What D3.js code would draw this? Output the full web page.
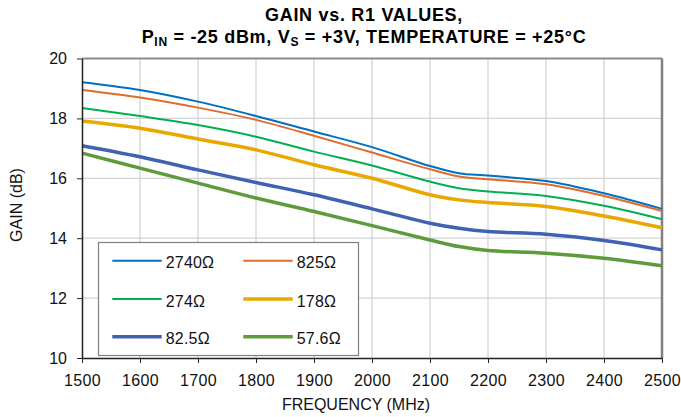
<!DOCTYPE html>
<html><head><meta charset="utf-8">
<script src="https://cdn.jsdelivr.net/npm/d3@7"></script>
<style>body{margin:0;background:#fff}svg{display:block;font-family:"Liberation Sans",Arial,sans-serif}</style>
</head><body>
<svg id="c" width="681" height="417"></svg>
<script>
const freqs = [1500,1600,1700,1800,1900,2000,2100,2150,2200,2300,2400,2500];
const s2740 = [19.21,18.95,18.56,18.08,17.56,17.04,16.41,16.17,16.09,15.91,15.50,14.98];
const s825  = [18.95,18.70,18.36,17.95,17.42,16.86,16.30,16.06,15.97,15.80,15.41,14.91];
const s274  = [18.35,18.08,17.78,17.39,16.89,16.43,15.89,15.67,15.56,15.41,15.08,14.63];
const s178  = [17.91,17.67,17.31,16.95,16.45,16.00,15.45,15.28,15.19,15.06,14.74,14.35];
const s82_5 = [17.09,16.72,16.28,15.86,15.45,14.98,14.50,14.33,14.22,14.13,13.92,13.61];
const s57_6 = [16.84,16.34,15.84,15.34,14.89,14.42,13.94,13.72,13.59,13.50,13.33,13.08];
const seriesNames = ["2740Ω","825Ω","274Ω","178Ω","82.5Ω","57.6Ω"];
const xTicks = [1500,1600,1700,1800,1900,2000,2100,2200,2300,2400,2500];
const yTicks = [10,12,14,16,18,20];

const series = [
  {name:seriesNames[0], values:s2740, color:"#0070C0", w:2},
  {name:seriesNames[1], values:s825,  color:"#E06C2C", w:2},
  {name:seriesNames[2], values:s274,  color:"#00B050", w:2},
  {name:seriesNames[3], values:s178,  color:"#E8A800", w:3.5},
  {name:seriesNames[4], values:s82_5, color:"#3F62B2", w:3.5},
  {name:seriesNames[5], values:s57_6, color:"#5F9A3C", w:3.5}
];

const svg = d3.select("#c");
const L=82, R=662, T=58.5, B=358;
const x = d3.scaleLinear().domain([1500,2500]).range([L,R]);
const y = d3.scaleLinear().domain([10,20]).range([B,T]);

// grid
svg.append("g").selectAll("line").data(xTicks.slice(1,-1)).join("line")
  .attr("x1",d=>x(d)).attr("x2",d=>x(d)).attr("y1",T).attr("y2",B)
  .attr("stroke","#d4d4d4").attr("stroke-width",1.3);
svg.append("g").selectAll("line").data(yTicks.slice(1,-1)).join("line")
  .attr("x1",L).attr("x2",R).attr("y1",d=>y(d)).attr("y2",d=>y(d))
  .attr("stroke","#d4d4d4").attr("stroke-width",1.3);
// top and right frame
svg.append("line").attr("x1",L).attr("x2",R).attr("y1",T).attr("y2",T).attr("stroke","#8a8a8a").attr("stroke-width",2);
svg.append("line").attr("x1",R).attr("x2",R).attr("y1",T).attr("y2",B).attr("stroke","#808080").attr("stroke-width",2.5);

// lines
const line = d3.line().x((d,i)=>x(freqs[i])).y(d=>y(d)).curve(d3.curveCatmullRom.alpha(0.5));
svg.append("g").selectAll("path").data(series).join("path")
  .attr("d",d=>line(d.values)).attr("fill","none")
  .attr("stroke",d=>d.color).attr("stroke-width",d=>d.w).attr("stroke-linejoin","round");

// legend
const lg = svg.append("g");
lg.append("rect").attr("x",98.5).attr("y",242.5).attr("width",260).attr("height",113)
  .attr("fill","#fff").attr("stroke","#7f7f7f").attr("stroke-width",1.2);
series.forEach((s,i)=>{
  const col=i%2, row=Math.floor(i/2);
  const lx = col?243.3:112.3, ly = [260.7,299,336.7][row];
  lg.append("line").attr("x1",lx).attr("x2",lx+49.4).attr("y1",ly).attr("y2",ly)
    .attr("stroke",s.color).attr("stroke-width",s.w);
  lg.append("text").attr("x",lx+53.4).attr("y",ly+7.5).attr("font-size",16)
    .attr("letter-spacing",0.2).attr("fill","#111").text(s.name);
});

// axes
const xa = svg.append("g").attr("transform",`translate(0,${B})`)
  .call(d3.axisBottom(x).tickValues(xTicks).tickSize(5).tickSizeOuter(0).tickFormat(d3.format("d")));
xa.select(".domain").attr("stroke","#222").attr("stroke-width",1.5);
xa.selectAll(".tick line").attr("stroke","#222");
xa.selectAll("text").attr("font-size",16).attr("fill","#111").attr("y",16.5).attr("letter-spacing",0.3)
  .style("font-family","Liberation Sans, Arial, sans-serif");
const ya = svg.append("g").attr("transform",`translate(${L},0)`)
  .call(d3.axisLeft(y).tickValues(yTicks).tickSize(5).tickSizeOuter(0));
ya.select(".domain").attr("stroke","#222").attr("stroke-width",1.5);
ya.selectAll(".tick line").attr("stroke","#222");
ya.selectAll("text").attr("font-size",16).attr("fill","#111").attr("x",-15)
  .style("font-family","Liberation Sans, Arial, sans-serif");

// labels
svg.append("text").attr("x",356).attr("y",410).attr("text-anchor","middle").attr("font-size",16).attr("fill","#111").text("FREQUENCY (MHz)");
svg.append("text").attr("transform","translate(22,205) rotate(-90)").attr("text-anchor","middle").attr("font-size",16).attr("fill","#111").text("GAIN (dB)");

// title
svg.append("text").attr("x",364).attr("y",21).attr("text-anchor","middle").attr("font-size",18)
  .attr("letter-spacing",0.7).attr("font-weight","bold").attr("fill","#000").text("GAIN vs. R1 VALUES,");
const t2 = svg.append("text").attr("x",364).attr("y",43).attr("text-anchor","middle").attr("font-size",18)
  .attr("letter-spacing",0.7).attr("font-weight","bold").attr("fill","#000");
t2.append("tspan").text("P");
t2.append("tspan").attr("font-size",12).attr("dy",3).text("IN");
t2.append("tspan").attr("dy",-3).text(" = -25 dBm, V");
t2.append("tspan").attr("font-size",12).attr("dy",3).text("S");
t2.append("tspan").attr("dy",-3).text(" = +3V, TEMPERATURE = +25°C");
</script>
</body></html>
